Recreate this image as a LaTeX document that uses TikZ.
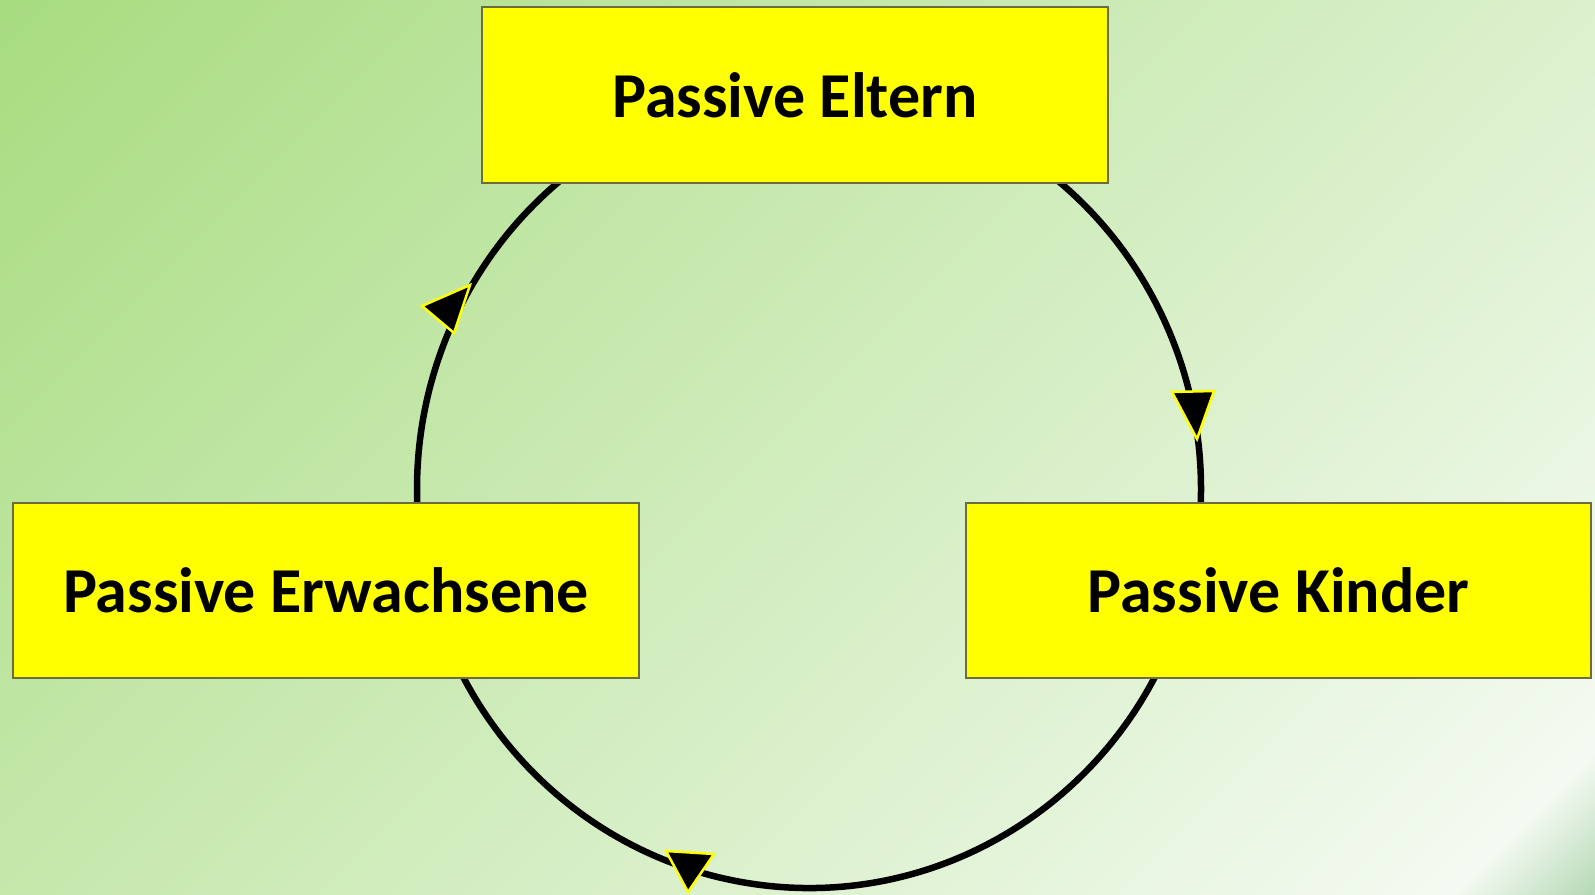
\documentclass[tikz,border=0pt]{standalone}
\usepackage{fontspec}
\setmainfont{Carlito}
\definecolor{bgA}{RGB}{168,220,128}
\definecolor{bgB}{RGB}{208,236,188}
\definecolor{bgC}{RGB}{228,244,218}
\definecolor{bgD}{RGB}{244,250,242}
\definecolor{bgE}{RGB}{184,218,184}
\definecolor{boxedge}{RGB}{108,108,62}
\definecolor{boxfill}{RGB}{255,255,0}
\definecolor{tipedge}{RGB}{255,255,0}
\pgfdeclarehorizontalshading{slidebg}{100bp}{color(0bp)=(bgA); color(14.64bp)=(bgA); color(50bp)=(bgB); color(68bp)=(bgC); color(81.5bp)=(bgD); color(85.36bp)=(bgE); color(100bp)=(bgE)}
\begin{document}
\begin{tikzpicture}[x=1pt,y=1pt,
  box/.style={draw=boxedge, line width=2.5pt, fill=boxfill, inner sep=0pt,
    minimum width=626pt, minimum height=176pt,
    font=\fontsize{64}{70}\selectfont\bfseries},
  cycleline/.style={line width=6.5pt, draw=black},
  tiphead/.style={fill=black, draw=tipedge, line width=2.5pt, line join=miter}]
  % slide background
  \useasboundingbox (0,0) rectangle (1595,894);
  \shade[shading=slidebg, shading angle=-45] (0,0) rectangle (1595,894);

  % centre of the cycle
  \coordinate (c) at (809,405);

  % cycle arcs, running clockwise; their ends lie under the boxes
  \draw[cycleline] (c) ++(60:392pt and 399pt) arc[start angle=60, end angle=-5, x radius=392pt, y radius=399pt];
  \draw[cycleline] (c) ++(-10:392pt and 399pt) arc[start angle=-10, end angle=-170, x radius=392pt, y radius=399pt];
  \draw[cycleline] (c) ++(-175:392pt and 399pt) arc[start angle=-175, end angle=-240, x radius=392pt, y radius=399pt];

  % arrowheads
  \filldraw[tiphead] (470,609) -- (422,588) -- (454,561) -- cycle;
  \filldraw[tiphead] (1172,502) -- (1214,503) -- (1197,455) -- cycle;
  \filldraw[tiphead] (666,43) -- (714,40) -- (688,2) -- cycle;

  % boxes
  \node[box] (eltern) at (795,799) {Passive Eltern};
  \node[box, minimum height=175pt] (erw) at (326,303.5) {Passive Erwachsene};
  \node[box, minimum width=625pt, minimum height=175pt] (kinder) at (1278.5,303.5) {Passive Kinder};
\end{tikzpicture}
\end{document}
